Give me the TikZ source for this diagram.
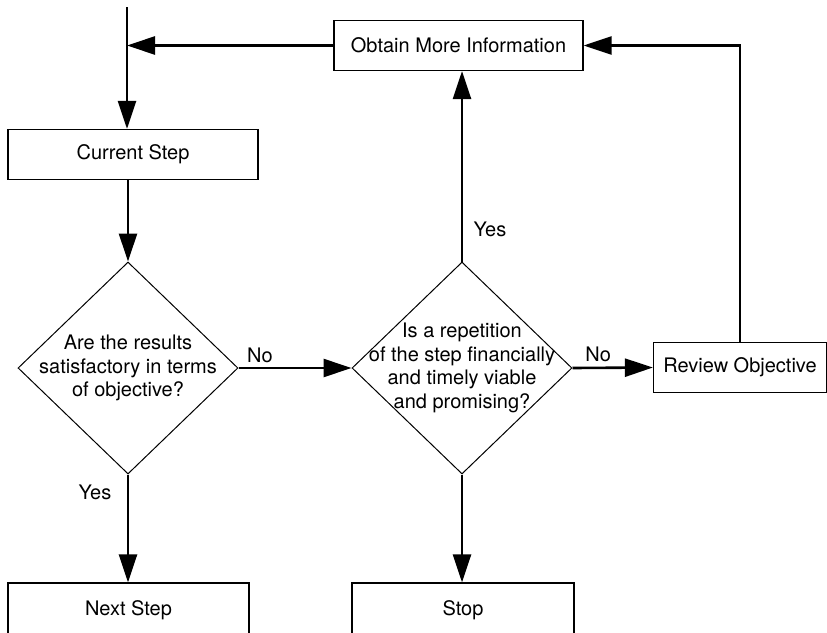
\documentclass[tikz,border=0pt]{standalone}
\usepackage{fontspec}
\setmainfont{TeX Gyre Heros}
\usetikzlibrary{arrows.meta}
\usetikzlibrary{shapes.geometric}

\tikzset{
	box/.style={draw, line width=1.2pt, minimum width=250pt, minimum height=50pt, inner sep=0pt},
	decision/.style={draw, diamond, line width=1pt, minimum width=220pt, minimum height=212pt, inner sep=0pt},
	flow/.style={line width=2.6pt, -{Triangle[length=28pt,width=18pt]}}
}

\begin{document}
\begin{tikzpicture}[x=1pt,y=-1pt,font=\fontsize{20}{23.5}\selectfont]

		\clip (0,0) rectangle (827,632);

		%--- BOXES AND DECISIONS ----------------

		% Boxes
		\node [box, minimum width=249pt] (obtain) at (458.5,45.5) {Obtain More Information};
		\node [box] (current) at (133,154.5) {Current Step};
		\node [box, minimum width=173pt] (review) at (740,367.5) {Review Objective};
		\node [box, minimum width=241pt, minimum height=54pt] (next) at (128.5,610) {Next Step};
		\node [box, minimum width=222pt, minimum height=54pt] (stop) at (463,610) {Stop};

		% Diamonds (text set as a centred label, so it may run past the corners)
		\node [decision, label={[align=center]center:{Are the results\\satisfactory in terms\\of objective?}}] (results) at (128,368) {};
		\node [decision, label={[align=center]center:{Is a repetition\\of the step financially\\and timely viable\\and promising?}}] (repeat) at (462,368) {};

		% Loose end of the incoming line
		\coordinate (entry) at (127,7);

		%--- ARROWS -----------------------------

		\draw [flow] (entry) -- (entry |- current.north);
		\draw [flow] (obtain.west) -- (entry |- obtain.west);
		\draw [flow] (results.north |- current.south) -- (results.north);

		\draw [flow] (results.east) -- node [pos=0.19, above=1pt] {No} (repeat.west);
		\draw [flow] (repeat.east) -- node [pos=0.32, above=1pt] {No} (review.west);

		\draw [flow] (repeat.north) -- node [pos=0.17, right=7pt] {Yes} (repeat.north |- obtain.south);
		\draw [flow] (results.south) -- node [pos=0.17, left=12pt] {Yes} (results.south |- next.north);
		\draw [flow] (repeat.south) -- (repeat.south |- stop.north);

		% Back to the information box
		\draw [flow] (review.north) |- (obtain.east);

\end{tikzpicture}
\end{document}
